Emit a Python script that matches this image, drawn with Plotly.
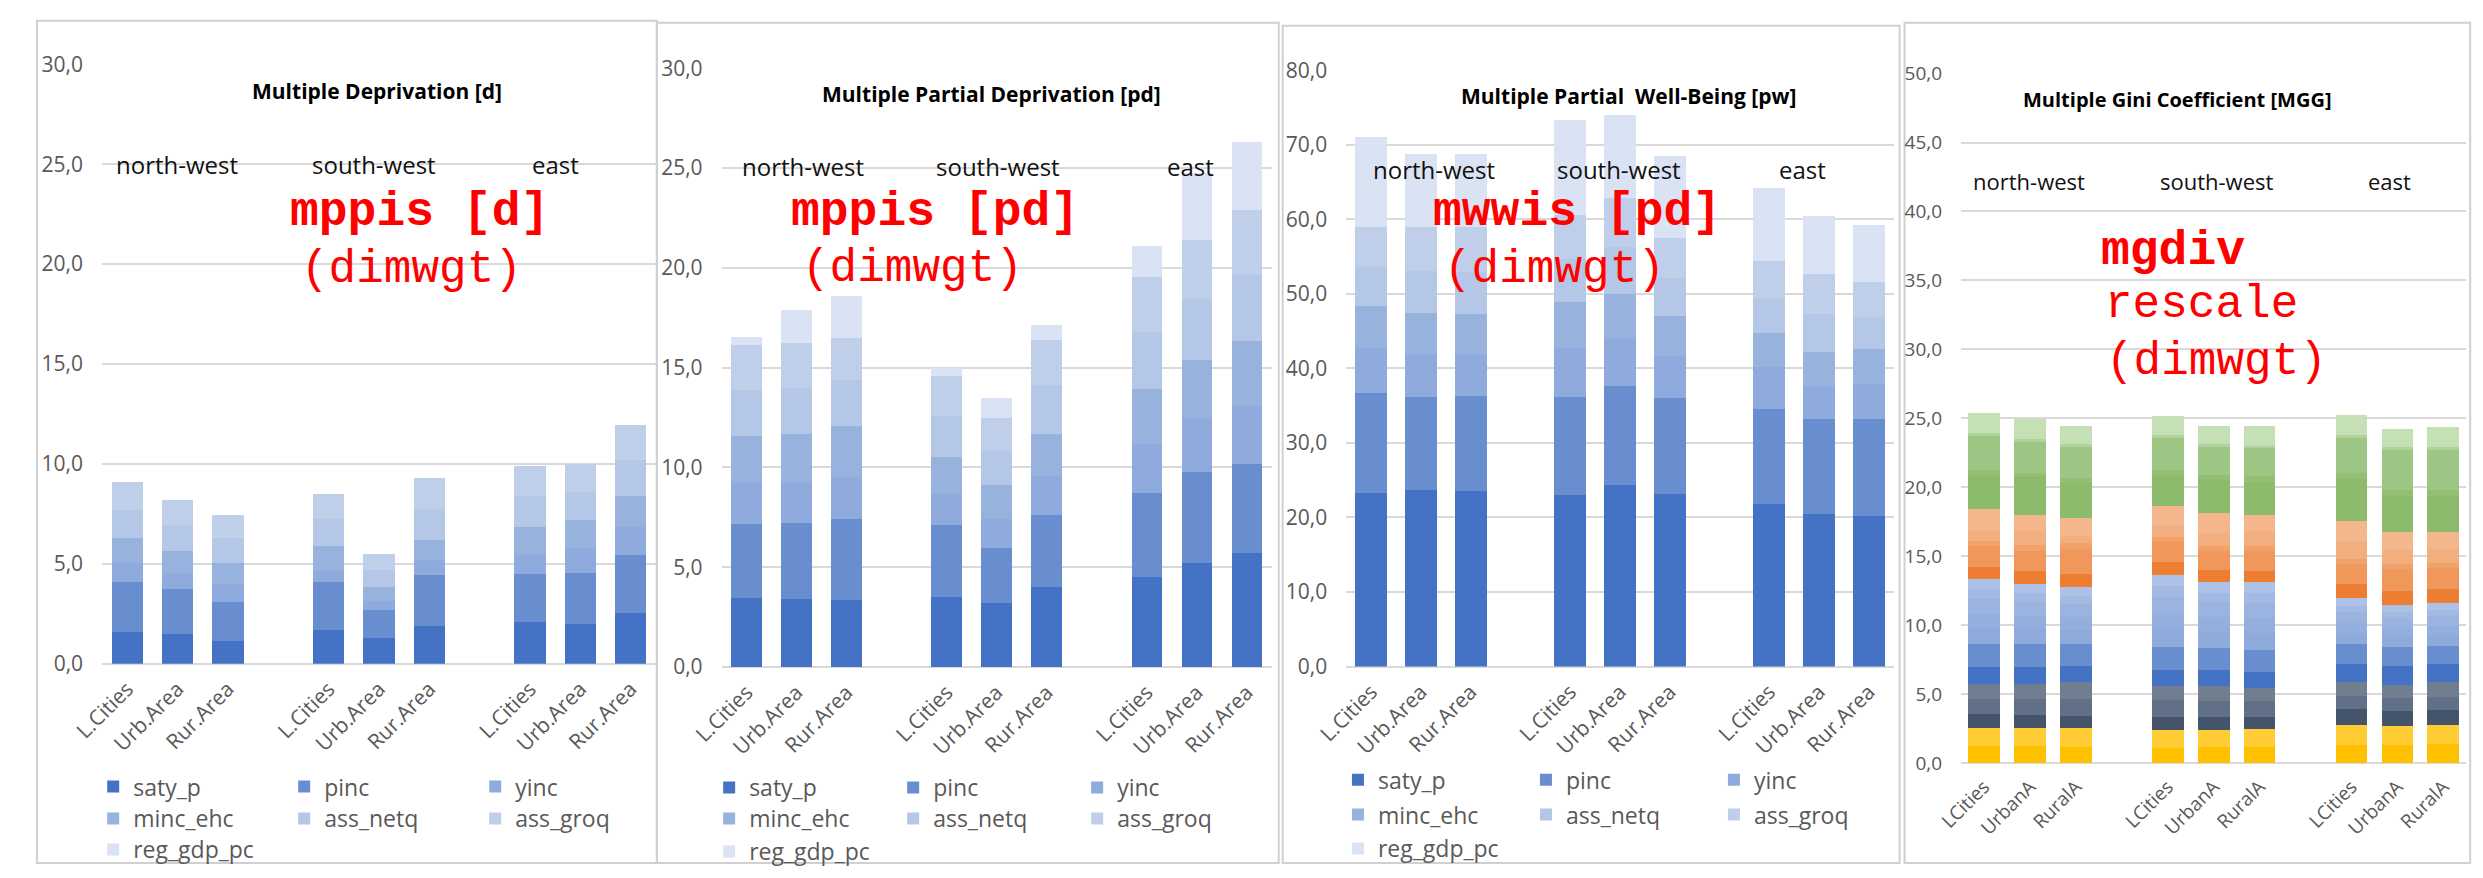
import plotly.graph_objects as go

W, H = 2483, 878

# ---------------- data ----------------
regions = ["north-west", "south-west", "east"]
areas = ["L.Cities", "Urb.Area", "Rur.Area"]
areas_gini = ["LCities", "UrbanA", "RuralA"]

series = ["saty_p", "pinc", "yinc", "minc_ehc", "ass_netq", "ass_groq", "reg_gdp_pc"]
series_colors = ["#4472c4", "#698ed0", "#8faadc", "#98b2de", "#b4c7e7", "#bfcfea", "#dae3f3"]

# bars ordered: north-west (L,U,R), south-west (L,U,R), east (L,U,R)
# Panel 1: Multiple Deprivation [d]
d_saty_p = [1.57, 1.46, 1.13, 1.68, 1.26, 1.89, 2.07, 1.97, 2.51]
d_pinc = [2.52, 2.28, 1.98, 2.41, 1.41, 2.54, 2.43, 2.59, 2.94]
d_yinc = [0.93, 0.79, 0.89, 0.57, 0.49, 0.75, 0.94, 1.23, 1.41]
d_minc_ehc = [1.26, 1.10, 1.05, 1.21, 0.69, 1.03, 1.42, 1.38, 1.54]
d_ass_netq = [1.41, 1.29, 1.23, 1.36, 0.84, 1.52, 1.54, 1.41, 1.79]
d_ass_groq = [1.41, 1.29, 1.16, 1.28, 0.81, 1.54, 1.47, 1.42, 1.74]
d_reg_gdp_pc = [0.0, 0.0, 0.0, 0.0, 0.0, 0.0, 0.0, 0.0, 0.0]

# Panel 2: Multiple Partial Deprivation [pd]
pd_saty_p = [3.46, 3.40, 3.35, 3.53, 3.22, 3.99, 4.52, 5.23, 5.70]
pd_pinc = [3.71, 3.84, 4.06, 3.59, 2.76, 3.63, 4.18, 4.55, 4.45]
pd_yinc = [2.07, 2.05, 2.10, 1.53, 1.42, 1.97, 2.50, 2.69, 2.91]
pd_minc_ehc = [2.33, 2.37, 2.55, 1.90, 1.71, 2.10, 2.74, 2.93, 3.30]
pd_ass_netq = [2.32, 2.33, 2.30, 2.05, 1.74, 2.44, 2.84, 3.03, 3.29]
pd_ass_groq = [2.26, 2.25, 2.12, 1.99, 1.62, 2.28, 2.75, 2.98, 3.23]
pd_reg_gdp_pc = [0.41, 1.65, 2.10, 0.38, 0.99, 0.75, 1.58, 3.36, 3.45]

# Panel 3: Multiple Partial Well-Being [pw]
pw_saty_p = [23.30, 23.66, 23.61, 22.99, 24.38, 23.15, 21.76, 20.43, 20.22]
pw_pinc = [13.36, 12.48, 12.69, 13.20, 13.25, 12.84, 12.84, 12.79, 13.00]
pw_yinc = [6.01, 5.76, 5.54, 6.48, 6.32, 5.65, 5.55, 4.46, 4.67]
pw_minc_ehc = [5.75, 5.54, 5.45, 6.26, 6.01, 5.39, 4.57, 4.58, 4.67]
pw_ass_netq = [5.13, 5.60, 5.65, 5.80, 6.32, 5.03, 4.57, 5.03, 4.32]
pw_ass_groq = [5.40, 5.91, 6.06, 5.91, 6.52, 5.40, 5.14, 5.39, 4.77]
pw_reg_gdp_pc = [12.07, 9.76, 9.81, 12.64, 11.15, 11.09, 9.70, 7.76, 7.55]

# Panel 4: Multiple Gini Coefficient [MGG] (22 stacked components)
g_y1 = [1.24, 1.24, 1.19, 1.12, 1.17, 1.17, 1.31, 1.31, 1.41]
g_y2 = [1.29, 1.29, 1.34, 1.27, 1.22, 1.31, 1.45, 1.36, 1.35]
g_s1 = [1.05, 0.98, 0.89, 0.96, 0.96, 0.87, 1.13, 1.08, 1.06]
g_s2 = [1.10, 1.17, 1.26, 1.22, 1.17, 1.12, 0.98, 1.00, 1.00]
g_s3 = [1.08, 1.08, 1.17, 1.05, 1.10, 0.99, 0.98, 0.94, 1.03]
g_b1 = [1.24, 1.24, 1.22, 1.15, 1.15, 1.14, 1.36, 1.38, 1.36]
g_b2 = [1.62, 1.62, 1.55, 1.66, 1.57, 1.60, 1.41, 1.36, 1.29]
g_b3 = [1.17, 1.10, 1.02, 1.28, 1.18, 1.21, 0.82, 0.74, 0.77]
g_b4 = [1.05, 0.98, 0.93, 1.16, 1.06, 1.09, 0.74, 0.67, 0.69]
g_b5 = [1.06, 0.98, 0.94, 1.17, 1.07, 1.10, 0.74, 0.67, 0.69]
g_b6 = [0.70, 0.66, 0.62, 0.78, 0.70, 0.73, 0.49, 0.44, 0.46]
g_b7 = [0.75, 0.68, 0.66, 0.83, 0.76, 0.78, 0.53, 0.48, 0.49]
g_o1 = [0.89, 0.94, 0.91, 0.90, 0.89, 0.85, 1.01, 1.05, 1.05]
g_o2 = [1.52, 1.44, 1.83, 1.52, 1.40, 1.44, 1.50, 1.60, 1.50]
g_o3 = [0.35, 0.43, 0.40, 0.33, 0.36, 0.36, 0.37, 0.39, 0.37]
g_o4 = [0.71, 0.99, 0.53, 0.84, 0.94, 1.06, 1.25, 0.99, 1.01]
g_o5 = [1.59, 1.17, 1.34, 1.38, 1.40, 1.17, 1.45, 1.31, 1.24]
g_g1 = [2.39, 2.81, 2.50, 2.18, 2.40, 2.41, 3.08, 2.62, 2.62]
g_g2 = [0.46, 0.20, 0.40, 0.46, 0.40, 0.40, 0.40, 0.41, 0.41]
g_g3 = [2.46, 2.30, 2.20, 2.34, 2.00, 2.02, 2.60, 2.90, 2.90]
g_g4 = [0.19, 0.19, 0.24, 0.19, 0.24, 0.20, 0.19, 0.20, 0.20]
g_g5 = [1.50, 1.45, 1.33, 1.39, 1.29, 1.41, 1.46, 1.36, 1.46]

gini_names = ["y1", "y2", "s1", "s2", "s3", "b1", "b2", "b3", "b4", "b5", "b6", "b7",
              "o1", "o2", "o3", "o4", "o5", "g1", "g2", "g3", "g4", "g5"]
gini_values = [g_y1, g_y2, g_s1, g_s2, g_s3, g_b1, g_b2, g_b3, g_b4, g_b5, g_b6, g_b7,
               g_o1, g_o2, g_o3, g_o4, g_o5, g_g1, g_g2, g_g3, g_g4, g_g5]
gini_colors = ["#ffc000", "#ffcd33", "#44546a", "#617086", "#717e90",
               "#4472c4", "#698ed0", "#8eaadb", "#94aedd", "#9ab4df", "#a2b9e2", "#adc1e6",
               "#ed7d31", "#f0975b", "#f1a26b", "#f3ae7f", "#f4b68c",
               "#8cbb6c", "#93bf75", "#9dc584", "#b0d29c", "#c5e0b4"]

# ---------------- layout helpers ----------------
def px_x(v):
    return v / W


def px_y(v):
    return 1 - v / H


# x positions: 3 bars per region, one empty slot between regions
xpos = [g * 4 + i for g in range(len(regions)) for i in range(3)]

GRID = "#d9d9d9"
TICK = "#595959"
FONT = "Open Sans"
MONO = "Courier New, Liberation Mono, monospace"

panels = [
    dict(key="", x0=71, x1=632, yt=51, yb=670, ymax=30, dtick=5, bw=0.62, tfs=21,
         labels=areas, box=(5, 6, 633, 876),
         title="Multiple Deprivation [d]", title_pos=(350, 78), title_fs=21,
         reg_pos=[(147, 154), (346, 154), (530, 154)], reg_fs=24,
         red=[("<b>mppis [d]</b>", 393, 204, 48), ("(dimwgt)", 384, 263, 46)],
         legend_x=62, legend_rows=[797, 830, 862], entry=146,
         vals=[d_saty_p, d_pinc, d_yinc, d_minc_ehc, d_ass_netq, d_ass_groq, d_reg_gdp_pc]),
    dict(key="2", x0=698.6, x1=1256, yt=55, yb=673.6, ymax=30, dtick=5, bw=0.61, tfs=21,
         labels=areas, box=(633, 8, 1263, 876),
         title="Multiple Partial Deprivation [pd]", title_pos=(972, 82), title_fs=21,
         reg_pos=[(781, 157), (979, 157), (1174, 157)], reg_fs=24,
         red=[("<b>mppis [pd]</b>", 915, 204, 48), ("(dimwgt)", 892, 262, 46)],
         legend_x=686, legend_rows=[798, 830, 864], entry=139,
         vals=[pd_saty_p, pd_pinc, pd_yinc, pd_minc_ehc, pd_ass_netq, pd_ass_groq, pd_reg_gdp_pc]),
    dict(key="3", x0=1331.4, x1=1886, yt=57, yb=673, ymax=80, dtick=10, bw=0.64, tfs=21,
         labels=areas, box=(1267, 11, 1892, 876),
         title="Multiple Partial  Well-Being [pw]", title_pos=(1618, 84), title_fs=21,
         reg_pos=[(1420, 160), (1608, 160), (1794, 160)], reg_fs=24,
         red=[("<b>mwwis [pd]</b>", 1565, 204, 48), ("(dimwgt)", 1542, 263, 46)],
         legend_x=1323, legend_rows=[790, 826, 861], entry=143,
         vals=[pw_saty_p, pw_pinc, pw_yinc, pw_minc_ehc, pw_ass_netq, pw_ass_groq, pw_reg_gdp_pc]),
    dict(key="4", x0=1954.3, x1=2466, yt=60.5, yb=772.7, ymax=50, dtick=5, bw=0.69, tfs=19,
         labels=areas_gini, box=(1897, 8, 2470, 876),
         title="Multiple Gini Coefficient [MGG]", title_pos=(2174, 87), title_fs=20,
         reg_pos=[(2023, 171), (2214, 171), (2388, 171)], reg_fs=22,
         red=[("<b>mgdiv</b>", 2169, 244, 48), ("rescale", 2198, 300, 46), ("(dimwgt)", 2213, 358, 46)],
         legend_x=None, vals=None),
]

fig = go.Figure()
layout = dict(
    width=W, height=H, margin=dict(l=0, r=0, t=0, b=0),
    paper_bgcolor="white", plot_bgcolor="white",
    barmode="stack", separators=", ", showlegend=True,
    font=dict(family=FONT, color=TICK),
)
annotations = []
shapes = []

legend_counter = 0
for p in panels:
    k = p["key"]
    xa = "x" + k
    ya = "y" + k
    layout["xaxis" + k] = dict(
        domain=[px_x(p["x0"]), px_x(p["x1"])], anchor=ya,
        range=[-0.5, 10.5], tickmode="array", tickvals=xpos,
        ticktext=p["labels"] * len(regions), tickangle=-45,
        tickfont=dict(family=FONT, size=p["tfs"], color=TICK),
        showgrid=False, zeroline=False, showline=False, ticks="",
        ticklabelstandoff=8,
    )
    layout["yaxis" + k] = dict(
        domain=[px_y(p["yb"]), px_y(p["yt"])], anchor=xa,
        range=[0, p["ymax"]], dtick=p["dtick"], tick0=0, tickformat=".1f",
        showgrid=True, gridcolor=GRID, gridwidth=2,
        zeroline=True, zerolinecolor=GRID, zerolinewidth=2,
        showline=False, ticks="", ticklabelstandoff=18,
        tickfont=dict(family=FONT, size=p["tfs"], color=TICK),
    )
    # panel border
    bx0, by0, bx1, by1 = p["box"]
    shapes.append(dict(type="rect", xref="paper", yref="paper",
                       x0=px_x(bx0), x1=px_x(bx1), y0=px_y(by1), y1=px_y(by0),
                       line=dict(color="#d0d0d0", width=2), layer="below"))
    # title
    tx, ty = p["title_pos"]
    annotations.append(dict(text="<b>" + p["title"] + "</b>", x=px_x(tx), y=px_y(ty),
                            xref="paper", yref="paper", showarrow=False,
                            xanchor="center", yanchor="middle",
                            font=dict(family=FONT, size=p["title_fs"], color="#000000")))
    for rname, (rx, ry) in zip(regions, p["reg_pos"]):
        annotations.append(dict(text=rname, x=px_x(rx), y=px_y(ry),
                                xref="paper", yref="paper", showarrow=False,
                                xanchor="center", yanchor="middle",
                                font=dict(family=FONT, size=p["reg_fs"], color="#111111")))
    for txt, rx, ry, fs in p["red"]:
        annotations.append(dict(text=txt, x=px_x(rx), y=px_y(ry),
                                xref="paper", yref="paper", showarrow=False,
                                xanchor="center", yanchor="middle",
                                font=dict(family=MONO, size=fs, color="#ff0000")))

    if p["vals"] is not None:
        # three legend rows per panel
        row_ids = []
        for r, ry in enumerate(p["legend_rows"]):
            legend_counter += 1
            lid = "legend" if legend_counter == 1 else "legend%d" % legend_counter
            row_ids.append(lid)
            layout[lid] = dict(
                orientation="h", x=px_x(p["legend_x"]), y=px_y(ry),
                xanchor="left", yanchor="middle", traceorder="normal",
                entrywidth=p["entry"], entrywidthmode="pixels",
                bgcolor="rgba(0,0,0,0)", borderwidth=0,
                font=dict(family=FONT, size=23, color=TICK),
                itemclick=False, itemdoubleclick=False,
            )
        for i, (name, col, vals) in enumerate(zip(series, series_colors, p["vals"])):
            fig.add_trace(go.Bar(
                x=xpos, y=vals, name=name, xaxis=xa, yaxis=ya,
                marker=dict(color=col, line=dict(width=0)), width=p["bw"],
                legend=row_ids[i // 3], showlegend=True,
            ))
    else:
        for name, col, vals in zip(gini_names, gini_colors, gini_values):
            fig.add_trace(go.Bar(
                x=xpos, y=vals, name=name, xaxis=xa, yaxis=ya,
                marker=dict(color=col, line=dict(width=0)), width=p["bw"],
                showlegend=False,
            ))

layout["annotations"] = annotations
layout["shapes"] = shapes
fig.update_layout(**layout)
fig.write_html("out.html")
